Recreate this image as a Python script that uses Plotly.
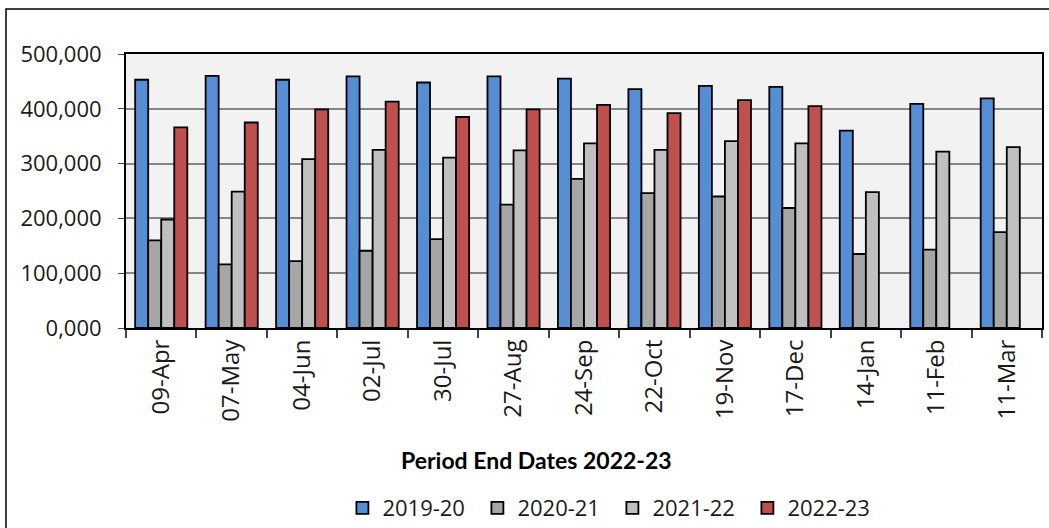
import plotly.graph_objects as go

categories = ["09-Apr", "07-May", "04-Jun", "02-Jul", "30-Jul", "27-Aug", "24-Sep",
              "22-Oct", "19-Nov", "17-Dec", "14-Jan", "11-Feb", "11-Mar"]
s2019_20 = [453000, 460000, 453000, 459000, 448000, 459000, 455000, 436000, 442000, 440000, 360000, 409000, 419000]
s2020_21 = [160000, 116000, 122000, 141000, 162000, 225000, 272000, 246000, 240000, 219000, 135000, 143000, 175000]
s2021_22 = [198000, 249000, 308000, 325000, 311000, 324000, 337000, 325000, 341000, 337000, 248000, 322000, 330000]
s2022_23 = [366000, 375000, 399000, 413000, 385000, 399000, 407000, 392000, 416000, 405000, None, None, None]
series_names = ["2019-20", "2020-21", "2021-22", "2022-23"]
colors = ["#558ED5", "#A6A6A6", "#BFBFBF", "#C0504D"]
ytick_vals = [0, 100000, 200000, 300000, 400000, 500000]
ytick_text = ["0,000", "100,000", "200,000", "300,000", "400,000", "500,000"]

FONT = "Open Sans, Noto Sans, sans-serif"
TFONT = "Lato, Liberation Sans, sans-serif"
fig = go.Figure()
for name, vals, col in zip(series_names, [s2019_20, s2020_21, s2021_22, s2022_23], colors):
    fig.add_trace(go.Bar(x=categories, y=vals, name=name,
                         marker=dict(color=col, line=dict(color="black", width=1.8))))

fig.update_layout(
    width=1049, height=528,
    margin=dict(l=126, r=7, t=54, b=200, autoexpand=False),
    paper_bgcolor="white", plot_bgcolor="#F2F2F2",
    barmode="group", bargap=0.26, bargroupgap=0,
    font=dict(family=FONT, size=20, color="#1a1a1a"),
    showlegend=True,
    legend=dict(orientation="h", x=0.531, y=-0.657, xanchor="center", yanchor="middle",
                font=dict(family=FONT, size=22), itemwidth=30, traceorder="normal",
                entrywidth=90, entrywidthmode="pixels"),
    xaxis=dict(type="category", tickangle=-90, tickson="boundaries", ticks="outside",
               ticklen=8, tickcolor="#444", tickwidth=1.5, showline=True, linecolor="black",
               linewidth=2, mirror=True, showgrid=False, tickfont=dict(size=24),
               automargin=False),
    yaxis=dict(range=[0, 500000], tickvals=ytick_vals, ticktext=ytick_text, ticks="outside",
               ticklen=6, tickcolor="#444", showline=True, linecolor="black", linewidth=2,
               mirror=True, showgrid=True, gridcolor="#868686", gridwidth=2, zeroline=False,
               tickfont=dict(size=22), ticklabelstandoff=12, automargin=False),
    shapes=[dict(type="rect", xref="paper", yref="paper", x0=-0.131, x1=1.02, y0=-0.75, y1=1.164,
                 line=dict(color="black", width=1.5), fillcolor="rgba(0,0,0,0)", layer="below")],
    annotations=[dict(text="<b>Period End Dates 2022-23</b>", xref="paper", yref="paper",
                      x=0.4476, y=-0.482, xanchor="center", yanchor="middle", showarrow=False,
                      font=dict(family=TFONT, size=23, color="black"))],
)
fig.write_html("out.html", config={"displayModeBar": False},
               post_script="document.body.style.margin='0px';document.body.style.overflow='hidden';")
